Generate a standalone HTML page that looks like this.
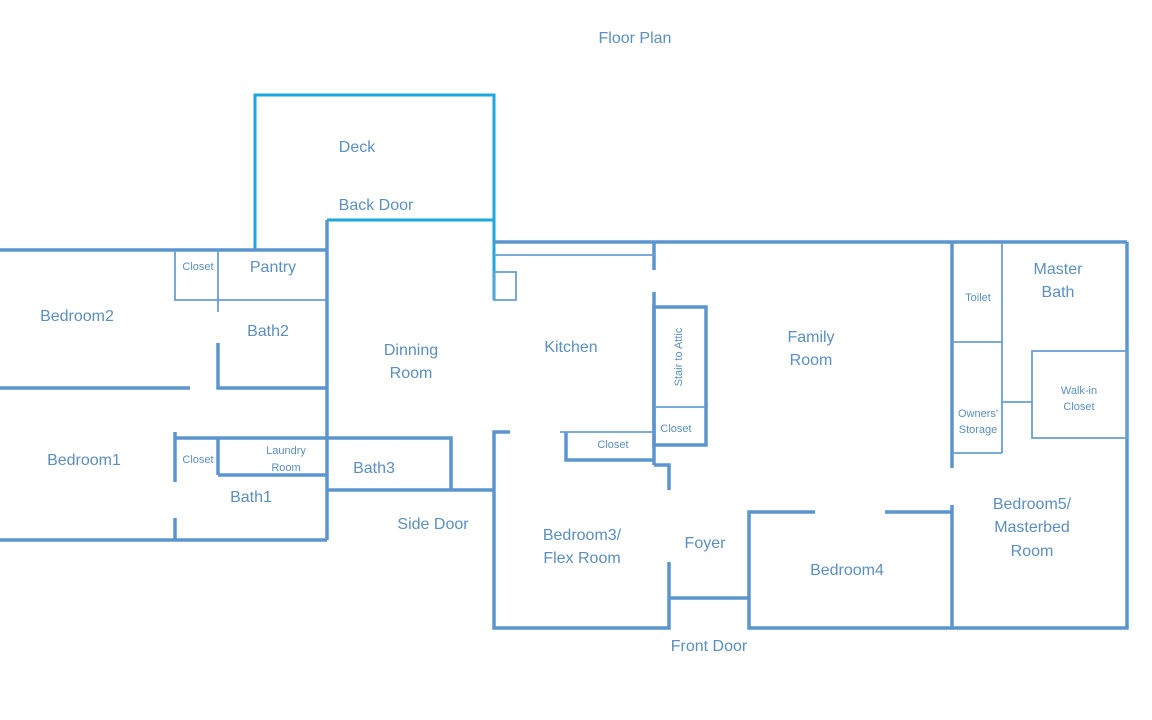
<!DOCTYPE html>
<html><head><meta charset="utf-8"><style>
html,body{margin:0;padding:0;background:#fff;}
svg{display:block}
text{font-family:"Liberation Sans",sans-serif;fill:#5b8fbf;text-anchor:middle}
.t{font-size:16px}.s{font-size:11px}
</style></head><body>
<svg width="1152" height="720" viewBox="0 0 1152 720">
<g fill="none" stroke="#1ea7dc" stroke-width="3">
<polyline points="255,250 255,95 494,95 494,300"/>
<line x1="327" y1="220" x2="494" y2="220"/>
</g>
<g fill="none" stroke="#5b95cf" stroke-width="3.5">
<line x1="0" y1="250" x2="327" y2="250"/>
<line x1="327" y1="220" x2="327" y2="540"/>
<polyline points="218,343 218,388 327,388"/>
<line x1="0" y1="388" x2="190" y2="388"/>
<line x1="175" y1="432" x2="175" y2="482"/>
<line x1="175" y1="518" x2="175" y2="540"/>
<polyline points="175,438 451,438 451,490"/>
<line x1="218" y1="475" x2="327" y2="475"/>
<line x1="218" y1="438" x2="218" y2="475"/>
<line x1="327" y1="490" x2="494" y2="490"/>
<line x1="0" y1="540" x2="327" y2="540"/>
<line x1="494" y1="242" x2="1127" y2="242"/>
<line x1="654" y1="242" x2="654" y2="270"/>
<line x1="654" y1="292" x2="654" y2="465"/>
<rect x="654" y="307" width="52" height="138"/>
<polyline points="566,432 566,460 654,460"/>
<polyline points="654,465 669,465 669,490"/>
<polyline points="510,432 494,432 494,628 669,628 669,562"/>
<line x1="669" y1="598" x2="749" y2="598"/>
<polyline points="815,512 749,512 749,628 1127,628 1127,242"/>
<line x1="885" y1="512" x2="952" y2="512"/>
<line x1="952" y1="505" x2="952" y2="628"/>
<line x1="952" y1="242" x2="952" y2="468"/>
</g>
<g fill="none" stroke="#6a9fd3" stroke-width="1.8">
<polyline points="175,250 175,300 327,300"/>
<line x1="218" y1="250" x2="218" y2="312"/>
<line x1="494" y1="255" x2="654" y2="255"/>
<rect x="494" y="272" width="22" height="28"/>
<line x1="654" y1="407" x2="706" y2="407"/>
<line x1="560" y1="432" x2="654" y2="432"/>
<line x1="1002" y1="242" x2="1002" y2="453"/>
<line x1="952" y1="342" x2="1002" y2="342"/>
<line x1="952" y1="453" x2="1002" y2="453"/>
<line x1="1002" y1="402" x2="1032" y2="402"/>
<rect x="1032" y="351" width="95" height="87"/>
</g>
<text class="t" x="635" y="43">Floor Plan</text>
<text class="t" x="357" y="152">Deck</text>
<text class="t" x="376" y="210">Back Door</text>
<text class="s" x="198" y="270">Closet</text>
<text class="t" x="273" y="272">Pantry</text>
<text class="t" x="77" y="321">Bedroom2</text>
<text class="t" x="268" y="336">Bath2</text>
<text class="t" x="411" y="355">Dinning</text>
<text class="t" x="411" y="378">Room</text>
<text class="t" x="571" y="352">Kitchen</text>
<text class="s" x="198" y="463">Closet</text>
<text class="s" x="286" y="454">Laundry</text>
<text class="s" x="286" y="471">Room</text>
<text class="t" x="84" y="465">Bedroom1</text>
<text class="t" x="374" y="473">Bath3</text>
<text class="t" x="251" y="502">Bath1</text>
<text class="t" x="433" y="529">Side Door</text>
<text class="s" x="613" y="448">Closet</text>
<text class="s" x="676" y="432">Closet</text>
<text class="s" transform="translate(682,357) rotate(-90)">Stair to Attic</text>
<text class="t" x="582" y="540">Bedroom3/</text>
<text class="t" x="582" y="563">Flex Room</text>
<text class="t" x="705" y="548">Foyer</text>
<text class="t" x="709" y="651">Front Door</text>
<text class="t" x="811" y="342">Family</text>
<text class="t" x="811" y="365">Room</text>
<text class="t" x="847" y="575">Bedroom4</text>
<text class="s" x="978" y="301">Toilet</text>
<text class="t" x="1058" y="274">Master</text>
<text class="t" x="1058" y="297">Bath</text>
<text class="s" x="978" y="417">Owners'</text>
<text class="s" x="978" y="433">Storage</text>
<text class="s" x="1079" y="394">Walk-in</text>
<text class="s" x="1079" y="410">Closet</text>
<text class="t" x="1032" y="509">Bedroom5/</text>
<text class="t" x="1032" y="532">Masterbed</text>
<text class="t" x="1032" y="556">Room</text>
</svg>
</body></html>
